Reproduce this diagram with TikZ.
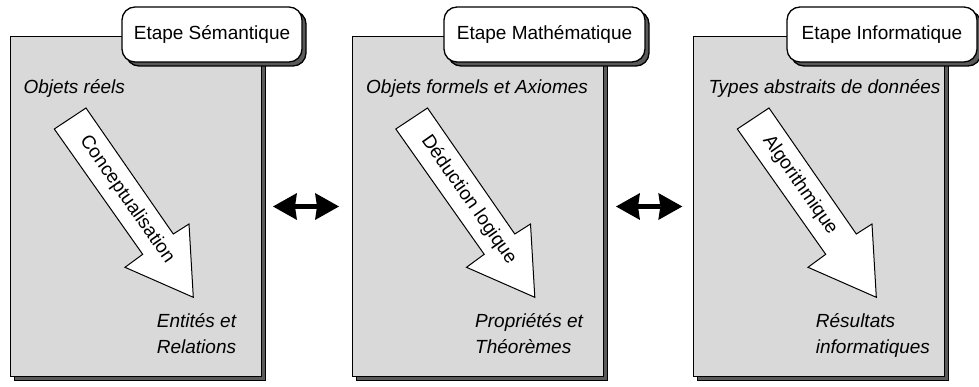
\documentclass[tikz,border=0pt]{standalone}
\usepackage{fontspec}
\setmainfont{Liberation Sans}
\usetikzlibrary{arrows.meta,shadows,calc}
\definecolor{panelgray}{HTML}{D9D9D9}
\definecolor{shadowgray}{HTML}{5A5A5A}
\newcommand\diagfont{\fontsize{19}{26}\selectfont}
\begin{document}
\begin{tikzpicture}[x=1pt,y=-1pt,
  panel/.style={draw=black, line width=1pt, fill=panelgray, minimum width=251pt,
    minimum height=340pt, anchor=north west, inner sep=0pt,
    general shadow={shadow xshift=4pt, shadow yshift=-4pt, fill=shadowgray, draw=black, line width=1pt}},
  stagelabel/.style={draw=black, line width=1.3pt, fill=white, rounded corners=13pt,
    minimum height=55pt, inner sep=0pt, font=\diagfont,
    general shadow={shadow xshift=4pt, shadow yshift=-4pt, fill=shadowgray, draw=black, line width=1.3pt}},
  txt/.style={inner sep=0pt, font=\diagfont\itshape, align=left},
  bigarrow/.style={draw=black, line width=1pt, fill=white, line join=miter},
  arrowtext/.style={inner sep=0pt, font=\diagfont, anchor=west, rotate=-55},
  dbl/.style={line width=5pt, {Stealth[length=24pt,width=27pt,inset=2pt,line width=0pt]}-{Stealth[length=24pt,width=27pt,inset=2pt,line width=0pt]}}
]
\useasboundingbox (0,0) rectangle (979,387);

% panels
\node[panel] (p1) at (10,36) {};
\node[panel] (p2) at (351.5,36) {};
\node[panel] (p3) at (693,36) {};

% stage labels
\node[stagelabel, minimum width=180pt] (l1) at (212,34.5) {Etape Sémantique};
\node[stagelabel, minimum width=201pt] (l2) at (544.5,34.5) {Etape Mathématique};
\node[stagelabel, minimum width=190pt] (l3) at (882,34.5) {Etape Informatique};

% big arrows
\foreach \dx in {0,341.5,683}{
  \begin{scope}[xshift=\dx pt]
    \draw[bigarrow] (54.3,129) -- (86,108) -- (173.3,234) -- (189,224) -- (193.3,297.3)
      -- (125,267.3) -- (142.7,254.3) -- cycle;
  \end{scope}
}
\node[arrowtext] (a1) at (83.5,137.5) {Conceptualisation};
\node[arrowtext] (a2) at (425,137.5) {Déduction logique};
\node[arrowtext] (a3) at (766.5,137.5) {Algorithmique};

% top texts
\node[txt, anchor=base west] (o1) at (23.3,93.5) {Objets réels};
\node[txt, anchor=base west] (o2) at (366,93.5) {Objets formels et Axiomes};
\node[txt, anchor=base west] (o3) at (708.3,93.5) {Types abstraits de données};

% bottom texts (base = baseline of last line)
\node[txt, anchor=base west] (e1) at (156.7,353.5) {Entités et\\Relations};
\node[txt, anchor=base west] (e2) at (475,353.5) {Propriétés et\\Théorèmes};
\node[txt, anchor=base west] (e3) at (815.7,353) {Résultats\\informatiques};

% double arrows
\draw[dbl, shorten <=11pt, shorten >=12.5pt] (p1.east) -- (p2.west);
\draw[dbl, shorten <=12.5pt, shorten >=10.7pt] (p2.east) -- (p3.west);
\end{tikzpicture}
\end{document}
